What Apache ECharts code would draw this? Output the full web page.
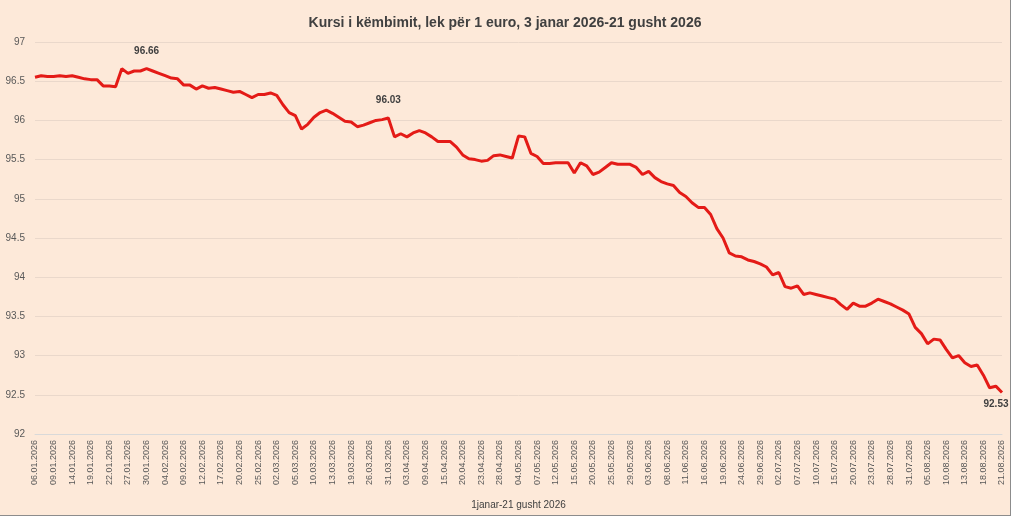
<!DOCTYPE html>
<html>
<head>
<meta charset="utf-8">
<script src="https://cdn.jsdelivr.net/npm/echarts@6/dist/echarts.min.js"></script>
<style>
  html, body { margin: 0; padding: 0; background: #fff; }
  #chart { position: absolute; left: 0; top: 0; width: 1010px; height: 515px;
           background: #fde9d9; border-right: 1px solid #8c8c8c; border-bottom: 1px solid #8c8c8c; }
</style>
</head>
<body>
<div id="chart"></div>
<script>
// tick labels shown on the x axis (every 3rd trading day)
const tickLabels = ['06.01.2026','09.01.2026','14.01.2026','19.01.2026','22.01.2026','27.01.2026','30.01.2026',
  '04.02.2026','09.02.2026','12.02.2026','17.02.2026','20.02.2026','25.02.2026','02.03.2026','05.03.2026',
  '10.03.2026','13.03.2026','19.03.2026','26.03.2026','31.03.2026','03.04.2026','09.04.2026','15.04.2026',
  '20.04.2026','23.04.2026','28.04.2026','04.05.2026','07.05.2026','12.05.2026','15.05.2026','20.05.2026',
  '25.05.2026','29.05.2026','03.06.2026','08.06.2026','11.06.2026','16.06.2026','19.06.2026','24.06.2026',
  '29.06.2026','02.07.2026','07.07.2026','10.07.2026','15.07.2026','20.07.2026','23.07.2026','28.07.2026',
  '31.07.2026','05.08.2026','10.08.2026','13.08.2026','18.08.2026','21.08.2026'];

// lek per 1 euro, one value per trading day
const rates = [
  96.55,96.57,96.56,96.56,96.57,96.56,96.57,96.55,96.53,96.52,96.52,96.44,96.44,96.43,96.66,96.60,96.63,96.63,96.66,96.63,
  96.60,96.57,96.54,96.53,96.45,96.45,96.40,96.44,96.41,96.42,96.40,96.38,96.36,96.37,96.33,96.29,96.33,96.33,96.35,96.32,
  96.20,96.10,96.06,95.89,95.95,96.04,96.10,96.13,96.09,96.04,95.99,95.98,95.92,95.94,95.97,96.00,96.01,96.03,95.79,95.83,
  95.79,95.84,95.87,95.84,95.79,95.73,95.73,95.73,95.66,95.56,95.51,95.50,95.48,95.49,95.55,95.56,95.54,95.52,95.80,95.79,
  95.58,95.54,95.45,95.45,95.46,95.46,95.46,95.33,95.46,95.42,95.31,95.34,95.40,95.46,95.44,95.44,95.44,95.40,95.31,95.35,
  95.27,95.22,95.19,95.17,95.08,95.03,94.95,94.89,94.89,94.80,94.62,94.50,94.31,94.27,94.26,94.22,94.20,94.17,94.13,94.03,
  94.06,93.88,93.86,93.89,93.78,93.80,93.78,93.76,93.74,93.72,93.65,93.59,93.67,93.63,93.63,93.67,93.72,93.69,93.66,93.62,
  93.58,93.53,93.36,93.28,93.15,93.21,93.20,93.08,92.97,93.00,92.91,92.86,92.88,92.75,92.59,92.61,92.53
];

// points carrying a value label, and where the label sits
const labelled = [18, 57, 156];
const labelSide = ['top', 'top', 'bottom'];

// category list: each shown tick label followed by two unlabelled days
const categories = [];
tickLabels.forEach((t, i) => {
  categories.push(t);
  if (i < tickLabels.length - 1) { categories.push(''); categories.push(''); }
});

const chart = echarts.init(document.getElementById('chart'));
chart.setOption({
  backgroundColor: '#fde9d9',
  animation: false,
  title: {
    text: 'Kursi i këmbimit, lek për 1 euro, 3 janar 2026-21 gusht 2026',
    left: 'center', top: 11,
    textStyle: { fontFamily: 'Liberation Sans', fontSize: 14, fontWeight: 'bold', color: '#404040' }
  },
  grid: { left: 35, right: 8, top: 42, bottom: 77 },
  xAxis: {
    type: 'category', data: categories, boundaryGap: false,
    name: '1janar-21 gusht 2026', nameLocation: 'middle', nameGap: 66,
    nameTextStyle: { fontFamily: 'Liberation Sans', fontSize: 10, color: '#404040' },
    axisLine: { lineStyle: { color: '#d9d9d9' } },
    axisTick: { show: false },
    axisLabel: { interval: 2, rotate: 90, fontFamily: 'Liberation Sans', fontSize: 9, color: '#595959', margin: 6 }
  },
  yAxis: {
    type: 'value', min: 92, max: 97, interval: 0.5,
    axisLine: { show: false }, axisTick: { show: false },
    axisLabel: { fontFamily: 'Liberation Sans', fontSize: 10, color: '#595959', margin: 10 },
    splitLine: { lineStyle: { color: '#ead8cb' } }
  },
  series: [{
    type: 'line', data: rates, symbol: 'none', smooth: false,
    lineStyle: { color: '#e41b17', width: 3 },
    markPoint: {
      symbol: 'circle', symbolSize: 1,
      itemStyle: { color: 'rgba(0,0,0,0)' },
      data: labelled.map((idx, k) => ({
        coord: [idx, rates[idx]],
        label: {
          show: true, position: labelSide[k], distance: k === 2 ? 6 : 12,
          offset: k === 2 ? [-6, 0] : [0, 0],
          formatter: rates[idx].toFixed(2),
          fontFamily: 'Liberation Sans', fontSize: 10, fontWeight: 'bold', color: '#404040'
        }
      }))
    }
  }]
});
</script>
</body>
</html>
